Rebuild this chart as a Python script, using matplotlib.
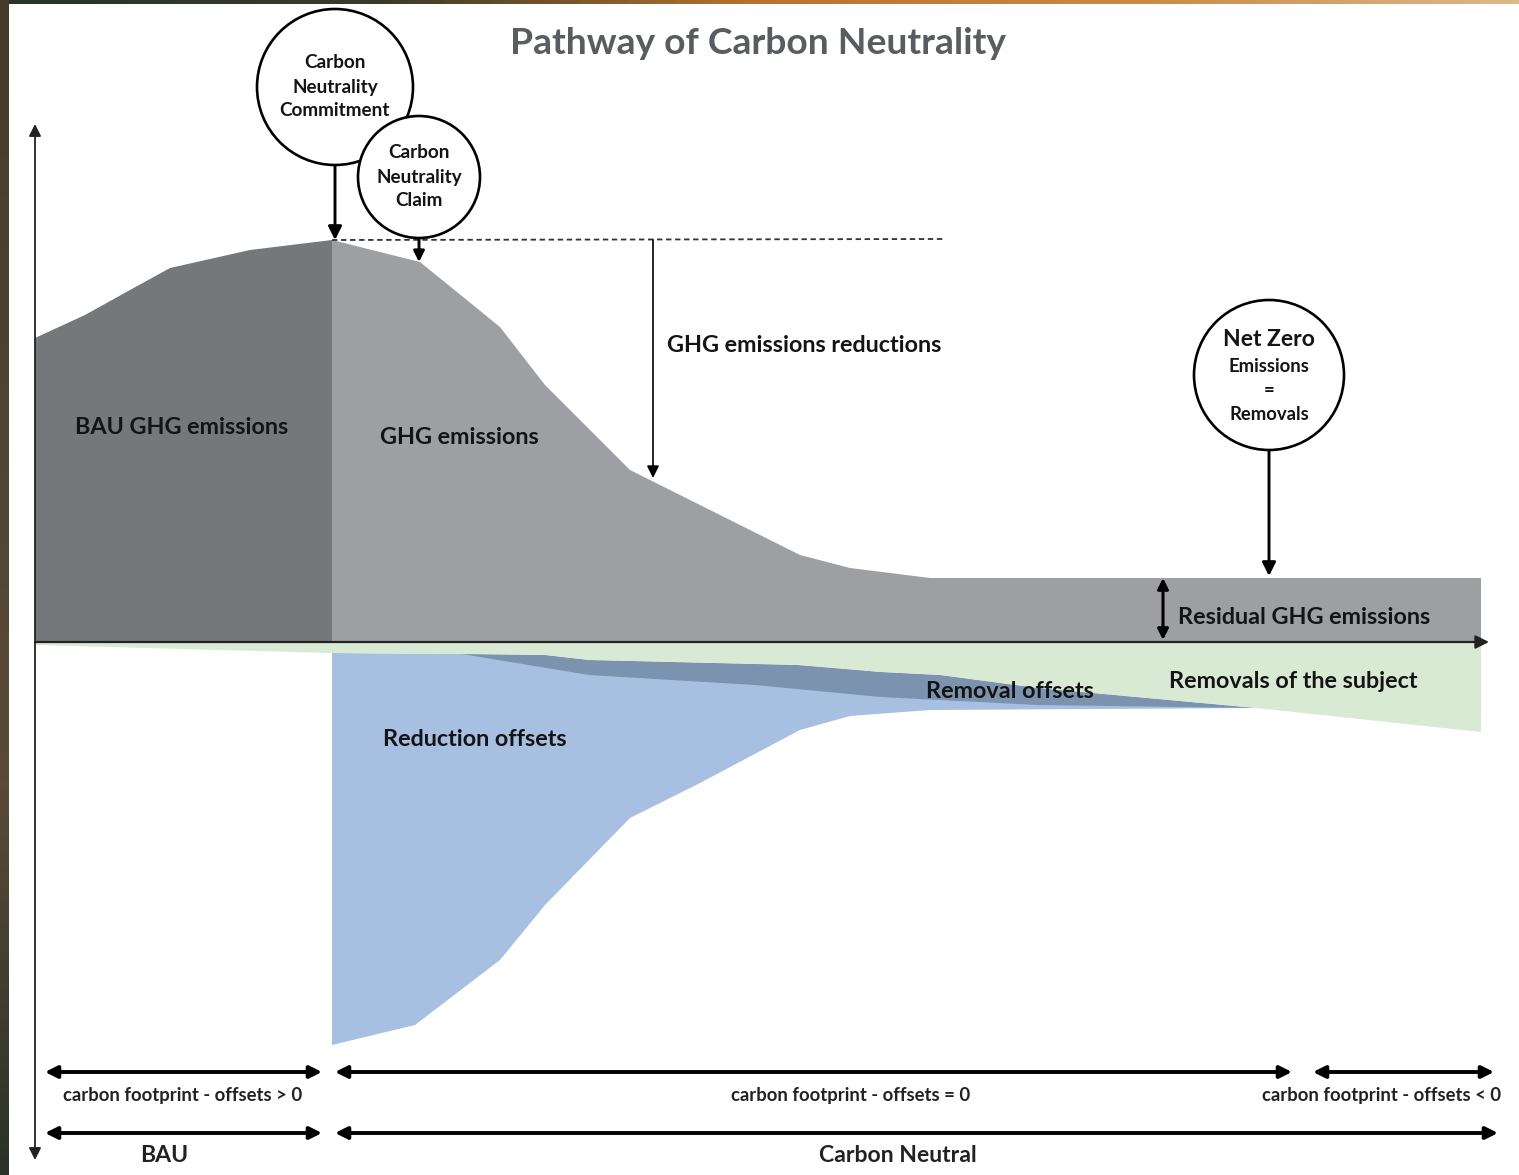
import numpy as np
import matplotlib
matplotlib.use('Agg')
import matplotlib.pyplot as plt
from matplotlib.patches import Circle

plt.rcParams['font.family'] = ['Lato', 'DejaVu Sans']
plt.rcParams['font.weight'] = 'bold'

# ---- data (x = time, y = emissions; 0 = baseline) ----
bau_x = [35, 85, 130, 170, 250, 332]
bau_y = [304, 327, 352, 374, 392, 402]

ghg_x = [332, 420, 500, 545, 630, 700, 800, 850, 930, 1481]
ghg_y = [402, 380, 315, 257, 172, 137, 87, 74, 64, 64]

# removals of the subject (lower edge, below baseline)
rem_x = [35, 332, 462, 545, 589, 798, 881, 940, 1038, 1256, 1481]
rem_y = [-3, -11, -12, -13, -18, -23, -30, -33, -46, -66, -90]

# lower edge of removal offsets band
roff_x = [462, 589, 755, 881, 940, 1038, 1256]
roff_y = [-12, -33, -43, -55, -58, -63, -66]

# lower edge of reduction offsets
red_x = [332, 415, 500, 545, 630, 700, 800, 850, 930, 1256]
red_y = [-403, -383, -318, -263, -176, -141, -88, -74, -68, -66]

peak_x = 332
residual = 64

c_bau = '#75787b'
c_ghg = '#9d9fa2'
c_green = '#d9ead4'
c_blue = '#a7bfe0'
c_dblue = '#7b93ae'
txt = '#141414'

fig = plt.figure(figsize=(15.19, 11.75), dpi=100)
ax = fig.add_axes([0, 0, 1, 1])
ax.set_xlim(0, 1519)
ax.set_ylim(-533, 642)
ax.axis('off')

# frame strips of the screenshot
grad = np.linspace(0, 1, 256).reshape(1, -1)
top_cmap = matplotlib.colors.LinearSegmentedColormap.from_list(
    'top', ['#26342b', '#3a3a2a', '#b8742e', '#c98a45', '#dcb98c'])
ax.imshow(grad, cmap=top_cmap, extent=[0, 1519, 638, 642], aspect='auto', zorder=0)
left_cmap = matplotlib.colors.LinearSegmentedColormap.from_list(
    'left', ['#453b28', '#4d4532', '#5a4a38', '#2a3328'])
ax.imshow(grad.T, cmap=left_cmap, extent=[0, 9, -533, 642], aspect='auto', zorder=0)

# areas
ax.fill(bau_x + [peak_x, bau_x[0]], bau_y + [0, 0], color=c_bau, lw=0, zorder=1)
ax.fill(ghg_x + [ghg_x[-1], peak_x], ghg_y + [0, 0], color=c_ghg, lw=0, zorder=1)

sel = [i for i, x in enumerate(rem_x) if peak_x <= x <= red_x[-1]]
ax.fill([rem_x[i] for i in sel] + red_x[::-1], [rem_y[i] for i in sel] + red_y[::-1],
        color=c_blue, lw=0, zorder=1)

sel = [i for i, x in enumerate(rem_x) if roff_x[0] <= x <= roff_x[-1]]
ax.fill([rem_x[i] for i in sel] + roff_x[::-1], [rem_y[i] for i in sel] + roff_y[::-1],
        color=c_dblue, lw=0, zorder=2)

ax.fill(rem_x + [rem_x[-1], rem_x[0]], rem_y + [0, 0], color=c_green, lw=0, zorder=2)

# axes arrows
ax.annotate('', xy=(35, 518), xytext=(35, -518),
            arrowprops=dict(arrowstyle='<|-|>', color='#222222', lw=1.3,
                            mutation_scale=18, shrinkA=0, shrinkB=0), zorder=5)
ax.annotate('', xy=(1489, 0), xytext=(35, 0),
            arrowprops=dict(arrowstyle='-|>', color='#222222', lw=1.6,
                            mutation_scale=20, shrinkA=0, shrinkB=0), zorder=5)

# dashed peak line
ax.plot([peak_x, 943], [402, 403], ls=(0, (3, 2)), color='#333333', lw=1.3, zorder=4)

def arrow(x0, y0, x1, y1, style='-|>', lw=1.8, ms=20):
    ax.annotate('', xy=(x1, y1), xytext=(x0, y0),
                arrowprops=dict(arrowstyle=style, color='black', lw=lw,
                                mutation_scale=ms, shrinkA=0, shrinkB=0), zorder=6)

# reductions arrow
arrow(653, 402, 653, 164, lw=1.2, ms=18)
# residual arrow
arrow(1163, 2, 1163, residual, style='<|-|>', lw=2.2, ms=16)

# circles
def bubble(cx, cy, r, z):
    ax.add_patch(Circle((cx, cy), r, facecolor='white', edgecolor='black', lw=1.9, zorder=z))

bubble(335, 555, 78, 7)
arrow(335, 477, 335, 402, lw=2.1, ms=20)
bubble(419, 465, 61, 8)
arrow(419, 404, 419, 380, lw=2.1, ms=16)
bubble(1269, 267, 75, 7)
arrow(1269, 192, 1269, 66, lw=2.1, ms=20)

for yy, s in zip([579, 555, 531], ['Carbon', 'Neutrality', 'Commitment']):
    ax.text(335, yy, s, ha='center', va='center', fontsize=13.6, color=txt, zorder=9)
for yy, s in zip([490, 465, 441], ['Carbon', 'Neutrality', 'Claim']):
    ax.text(419, yy, s, ha='center', va='center', fontsize=13.6, color=txt, zorder=9)
ax.text(1269, 303, 'Net Zero', ha='center', va='center', fontsize=16.5, color=txt, zorder=9)
for yy, s in zip([276, 251, 227], ['Emissions', '=', 'Removals']):
    ax.text(1269, yy, s, ha='center', va='center', fontsize=13.3, color=txt, zorder=9)

# title
ax.text(758, 599, 'Pathway of Carbon Neutrality', ha='center', va='center',
        fontsize=26.8, color='#595d61', zorder=9)

# area labels
labels = [
    (75, 215, 'BAU GHG emissions'),
    (380, 205, 'GHG emissions'),
    (667, 296, 'GHG emissions reductions'),
    (1178, 25, 'Residual GHG emissions'),
    (1169, -39, 'Removals of the subject'),
    (926, -50, 'Removal offsets'),
    (383, -98, 'Reduction offsets'),
]
for x, y, s in labels:
    ax.text(x, y, s, ha='left', va='center', fontsize=16.8, color=txt, zorder=9)

# bottom phase arrows
arrow(45, -430, 322, -430, style='<|-|>', lw=2.8, ms=18)
arrow(335, -430, 1292, -430, style='<|-|>', lw=2.8, ms=18)
arrow(1313, -430, 1494, -430, style='<|-|>', lw=2.8, ms=18)
arrow(45, -491, 322, -491, style='<|-|>', lw=2.8, ms=18)
arrow(335, -491, 1498, -491, style='<|-|>', lw=2.8, ms=18)

ax.text(183, -454, 'carbon footprint - offsets > 0', ha='center', va='center', fontsize=13.3, color='#222222')
ax.text(851, -454, 'carbon footprint - offsets = 0', ha='center', va='center', fontsize=13.3, color='#222222')
ax.text(1382, -454, 'carbon footprint - offsets < 0', ha='center', va='center', fontsize=13.3, color='#222222')
ax.text(164, -514, 'BAU', ha='center', va='center', fontsize=16.6, color='#222222')
ax.text(898, -514, 'Carbon Neutral', ha='center', va='center', fontsize=16.6, color='#222222')

fig.savefig('out.png', dpi=100)
